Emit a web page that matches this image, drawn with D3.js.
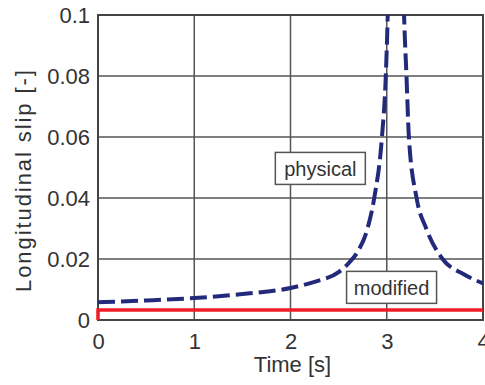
<!DOCTYPE html>
<html>
<head>
<meta charset="utf-8">
<script src="https://cdn.jsdelivr.net/npm/d3@7"></script>
<style>
  body { margin: 0; background: #fff; }
  svg { display: block; font-family: 'Liberation Sans', Arial, sans-serif; }
</style>
</head>
<body>
<script>
  const width = 485
  const height = 385
  const margin = { top: 15, right: 2, bottom: 65, left: 98 }

  const xTicks = [0, 1, 2, 3, 4]
  const yTicks = [0, 0.02, 0.04, 0.06, 0.08, 0.1]
  const yTickLabels = ['0', '0.02', '0.04', '0.06', '0.08', '0.1']

  // physical slip estimate, goes off the top near t = 3.1
  const physicalTime = [
    0, 0.5, 1.0, 1.5, 2.0, 2.25, 2.5, 2.6, 2.7, 2.8, 2.87, 2.95, 2.99, 3.01,
    3.09,
    3.18, 3.205, 3.23, 3.31, 3.41, 3.58, 3.8, 4.0
  ]
  const physicalSlip = [
    0.0058, 0.0064, 0.0072, 0.0085, 0.0105, 0.0125, 0.0157, 0.0185, 0.0225, 0.030, 0.040, 0.060, 0.080, 0.100,
    0.30,
    0.100, 0.080, 0.060, 0.040, 0.030, 0.020, 0.015, 0.012
  ]

  // modified slip estimate
  const modifiedTime = [0, 0, 4]
  const modifiedSlip = [0, 0.0033, 0.0033]

  const labels = ['physical', 'modified']
  const labelTime = [2.31, 3.05]
  const labelSlip = [0.0497, 0.0107]

  const x = d3.scaleLinear().domain([0, 4]).range([margin.left, width - margin.right])
  const y = d3.scaleLinear().domain([0, 0.1]).range([height - margin.bottom, margin.top])

  const svg = d3.select('body')
    .append('svg')
    .attr('width', width)
    .attr('height', height)

  svg.append('defs')
    .append('clipPath')
    .attr('id', 'plot-clip')
    .append('rect')
    .attr('x', margin.left - 3)
    .attr('y', margin.top)
    .attr('width', width - margin.left - margin.right + 3)
    .attr('height', height - margin.top - margin.bottom + 1)

  // grid
  svg.append('g')
    .selectAll('line')
    .data(xTicks.slice(1, -1))
    .enter()
    .append('line')
    .attr('x1', function (d) { return x(d) })
    .attr('x2', function (d) { return x(d) })
    .attr('y1', y(0))
    .attr('y2', y(0.1))
    .attr('stroke', '#555')
    .attr('stroke-width', 1.5)

  svg.append('g')
    .selectAll('line')
    .data(yTicks.slice(1, -1))
    .enter()
    .append('line')
    .attr('x1', x(0))
    .attr('x2', x(4))
    .attr('y1', function (d) { return y(d) })
    .attr('y2', function (d) { return y(d) })
    .attr('stroke', '#555')
    .attr('stroke-width', 1.5)

  // axes, tick marks hidden, labels kept
  const xAxis = svg.append('g')
    .attr('transform', `translate(0,${y(0)})`)
    .call(d3.axisBottom(x).tickValues(xTicks).tickFormat(d3.format('d')).tickSize(0).tickPadding(12))
  const yAxis = svg.append('g')
    .attr('transform', `translate(${x(0)},0)`)
    .call(d3.axisLeft(y).tickValues(yTicks).tickFormat(function (d, i) { return yTickLabels[i] }).tickSize(0).tickPadding(8))

  ;[xAxis, yAxis].forEach(function (ax) {
    ax.select('.domain').remove()
    ax.selectAll('text')
      .attr('font-family', "'Liberation Sans', Arial, sans-serif")
      .attr('font-size', '22px')
      .attr('fill', '#333')
  })
  xAxis.selectAll('text').attr('dy', '0.75em')
  yAxis.selectAll('text').attr('dy', '0.36em')

  // frame
  svg.append('rect')
    .attr('x', x(0))
    .attr('y', y(0.1))
    .attr('width', x(4) - x(0))
    .attr('height', y(0) - y(0.1))
    .attr('fill', 'none')
    .attr('stroke', '#444')
    .attr('stroke-width', 2)

  const line = d3.line()
    .x(function (d) { return x(d[0]) })
    .y(function (d) { return y(d[1]) })

  const plot = svg.append('g').attr('clip-path', 'url(#plot-clip)')

  plot.append('path')
    .datum(d3.zip(modifiedTime, modifiedSlip))
    .attr('d', line)
    .attr('fill', 'none')
    .attr('stroke', '#ee1c25')
    .attr('stroke-width', 3.5)

  plot.append('path')
    .datum(d3.zip(physicalTime, physicalSlip))
    .attr('d', line.curve(d3.curveMonotoneX))
    .attr('fill', 'none')
    .attr('stroke', '#232a7c')
    .attr('stroke-width', 4)
    .attr('stroke-dasharray', '17,6')

  // text boxes
  const tag = svg.append('g')
    .selectAll('g')
    .data(labels)
    .enter()
    .append('g')
    .attr('transform', function (d, i) {
      return `translate(${x(labelTime[i])},${y(labelSlip[i])})`
    })

  tag.append('rect')
    .attr('x', -45)
    .attr('y', -16)
    .attr('width', 90)
    .attr('height', 32)
    .attr('fill', '#fff')
    .attr('stroke', '#555')
    .attr('stroke-width', 1.5)

  tag.append('text')
    .text(function (d) { return d })
    .attr('text-anchor', 'middle')
    .attr('dy', '0.36em')
    .attr('font-size', '20px')
    .attr('fill', '#333')

  svg.append('text')
    .text('Time [s]')
    .attr('x', (x(0) + x(4)) / 2 + 2)
    .attr('y', 372)
    .attr('text-anchor', 'middle')
    .attr('font-size', '22px')
    .attr('fill', '#333')

  svg.append('text')
    .text('Longitudinal slip [-]')
    .attr('transform', 'translate(31,181) rotate(-90)')
    .attr('text-anchor', 'middle')
    .attr('font-size', '22px')
    .attr('textLength', 222)
    .attr('lengthAdjust', 'spacing')
    .attr('fill', '#333')
</script>
</body>
</html>
